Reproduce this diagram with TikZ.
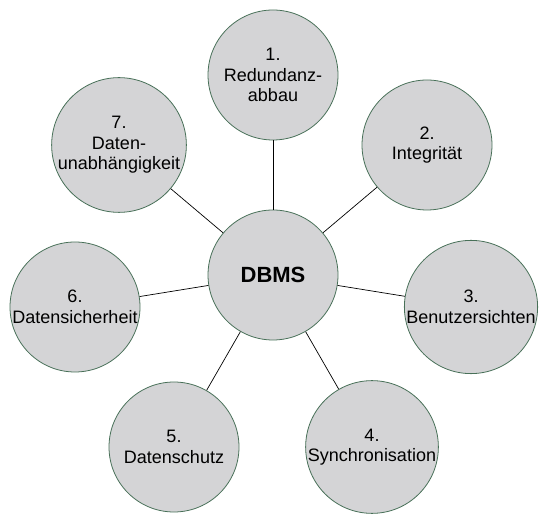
\documentclass[tikz,border=0pt]{standalone}
\usepackage{fontspec}
\setmainfont{Liberation Sans}
\usepackage{tikz}
\definecolor{ringedge}{RGB}{72,112,88}
\definecolor{ringfill}{RGB}{212,212,214}

\begin{document}
\begin{tikzpicture}[x=1pt,y=1pt,
  goal/.style={circle,draw=ringedge,fill=ringfill,line width=0.8pt,minimum size=130pt,inner sep=0pt,align=center,font=\fontsize{18}{20.5}\selectfont},
  core/.style={goal,font=\fontsize{22}{24}\selectfont\bfseries},
  link/.style={draw=black,line width=0.7pt}]
  \useasboundingbox (0,0) rectangle (548,527);
  \node[core] (dbms) at (273,252) {DBMS};
  \node[goal] (redund) at (273,452) {1.\\Redundanz-\\abbau};
  \node[goal] (integr) at (427,382) {2.\\Integrität};
  \node[goal] (views) at (471,220) {3.\\Benutzersichten};
  \node[goal] (sync) at (372,80) {4.\\Synchronisation};
  \node[goal] (schutz) at (174,80) {5.\\Datenschutz};
  \node[goal] (sicher) at (75,220) {6.\\Datensicherheit};
  \node[goal] (unabh) at (119,382) {7.\\Daten-\\unabhängigkeit};
  \draw[link] (dbms) -- (redund);
  \draw[link] (dbms) -- (integr);
  \draw[link] (dbms) -- (views);
  \draw[link] (dbms) -- (sync);
  \draw[link] (dbms) -- (schutz);
  \draw[link] (dbms) -- (sicher);
  \draw[link] (dbms) -- (unabh);
\end{tikzpicture}
\end{document}
